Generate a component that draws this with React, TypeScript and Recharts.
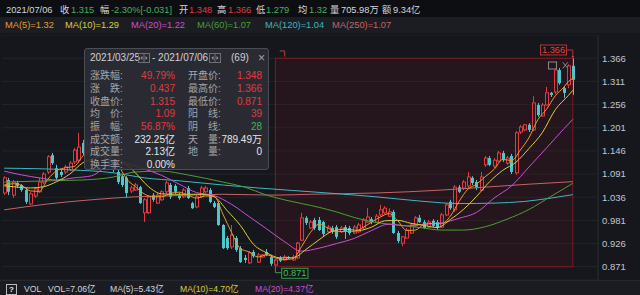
import React from 'react';
import { ComposedChart, Bar, Line, XAxis, YAxis, CartesianGrid, ReferenceArea } from 'recharts';

// ---- daily candles (131 trading days, last = 2021/07/06) ----
const opens = [
  1.046, 1.077, 1.041, 1.070, 1.065, 1.053, 1.020, 1.039, 1.049, 1.072,
  1.096, 1.136, 1.105, 1.096, 1.096, 1.101, 1.120, 1.124, 1.165, 1.143,
  1.158, 1.148, 1.136, 1.151, 1.129, 1.113, 1.096, 1.086, 1.082, 1.051,
  1.053, 1.060, 0.999, 0.999, 1.041, 1.022, 1.030, 1.049, 1.065, 1.063,
  1.041, 1.037, 1.058, 1.022, 1.013, 1.037, 1.049, 1.053, 1.022, 1.022,
  0.970, 0.939, 0.918, 0.939, 0.915, 0.892, 0.880, 0.906, 0.882, 0.894,
  0.906, 0.894, 0.875, 0.892, 0.887, 0.894, 0.887, 0.892, 0.934, 0.987,
  0.963, 0.982, 0.982, 0.977, 0.954, 0.963, 0.965, 0.954, 0.965, 0.963,
  0.951, 0.954, 0.963, 0.977, 0.984, 0.977, 0.994, 0.999, 0.991, 1.001,
  0.951, 0.927, 0.939, 0.951, 0.968, 0.987, 0.977, 0.965, 0.980, 0.977,
  0.965, 0.994, 1.025, 1.006, 1.060, 1.058, 1.063, 1.082, 1.072, 1.053,
  1.113, 1.129, 1.110, 1.122, 1.141, 1.117, 1.134, 1.094, 1.191, 1.196,
  1.208, 1.196, 1.255, 1.229, 1.255, 1.284, 1.286, 1.338, 1.295, 1.303,
  1.348,
];
const highs = [
  1.086, 1.082, 1.077, 1.075, 1.067, 1.058, 1.049, 1.060, 1.082, 1.096,
  1.136, 1.141, 1.113, 1.101, 1.113, 1.122, 1.153, 1.189, 1.172, 1.172,
  1.165, 1.153, 1.160, 1.155, 1.134, 1.117, 1.101, 1.091, 1.086, 1.063,
  1.070, 1.063, 1.034, 1.041, 1.046, 1.046, 1.053, 1.075, 1.070, 1.067,
  1.046, 1.058, 1.063, 1.025, 1.041, 1.063, 1.063, 1.058, 1.027, 1.027,
  0.972, 0.944, 0.970, 0.944, 0.920, 0.899, 0.908, 0.911, 0.904, 0.901,
  0.913, 0.899, 0.889, 0.896, 0.899, 0.896, 0.899, 0.930, 0.999, 0.991,
  0.982, 0.987, 0.989, 0.980, 0.970, 0.968, 0.970, 0.968, 0.970, 0.968,
  0.970, 0.975, 0.987, 1.010, 0.989, 0.996, 1.018, 1.015, 1.010, 1.006,
  0.956, 0.944, 0.963, 0.975, 0.991, 0.994, 0.982, 0.982, 0.984, 0.982,
  0.999, 1.022, 1.030, 1.065, 1.065, 1.077, 1.096, 1.086, 1.077, 1.096,
  1.134, 1.134, 1.129, 1.146, 1.146, 1.134, 1.139, 1.193, 1.208, 1.210,
  1.212, 1.276, 1.260, 1.260, 1.298, 1.286, 1.343, 1.343, 1.300, 1.352,
  1.366,
];
const lows = [
  1.041, 1.041, 1.034, 1.058, 1.049, 1.020, 1.018, 1.034, 1.046, 1.067,
  1.091, 1.113, 1.077, 1.084, 1.091, 1.098, 1.115, 1.120, 1.136, 1.136,
  1.141, 1.129, 1.132, 1.124, 1.105, 1.096, 1.067, 1.060, 1.034, 1.046,
  1.051, 1.020, 0.977, 0.996, 1.025, 1.020, 1.027, 1.044, 1.032, 1.044,
  1.030, 1.034, 1.032, 1.008, 1.010, 1.034, 1.046, 1.022, 1.010, 0.968,
  0.913, 0.911, 0.913, 0.906, 0.880, 0.880, 0.877, 0.892, 0.880, 0.892,
  0.896, 0.873, 0.871, 0.882, 0.885, 0.889, 0.885, 0.889, 0.932, 0.970,
  0.961, 0.958, 0.956, 0.944, 0.951, 0.949, 0.937, 0.951, 0.937, 0.946,
  0.949, 0.951, 0.961, 0.975, 0.972, 0.975, 0.991, 0.996, 0.989, 0.949,
  0.927, 0.920, 0.937, 0.949, 0.965, 0.975, 0.961, 0.963, 0.965, 0.958,
  0.963, 0.991, 1.006, 1.001, 1.046, 1.053, 1.058, 1.065, 1.053, 1.051,
  1.108, 1.110, 1.105, 1.120, 1.120, 1.113, 1.091, 1.089, 1.186, 1.193,
  1.191, 1.193, 1.227, 1.227, 1.253, 1.274, 1.281, 1.303, 1.272, 1.295,
  1.279,
];
const closes = [
  1.082, 1.049, 1.072, 1.063, 1.053, 1.025, 1.044, 1.056, 1.072, 1.091,
  1.132, 1.117, 1.082, 1.089, 1.108, 1.117, 1.148, 1.155, 1.141, 1.160,
  1.148, 1.136, 1.153, 1.129, 1.113, 1.101, 1.072, 1.065, 1.046, 1.058,
  1.065, 1.022, 1.030, 1.037, 1.030, 1.041, 1.049, 1.070, 1.037, 1.049,
  1.034, 1.053, 1.034, 1.010, 1.037, 1.058, 1.058, 1.025, 1.013, 0.970,
  0.915, 0.915, 0.946, 0.911, 0.882, 0.887, 0.904, 0.896, 0.899, 0.899,
  0.899, 0.878, 0.887, 0.885, 0.894, 0.892, 0.894, 0.927, 0.987, 0.975,
  0.977, 0.963, 0.958, 0.949, 0.965, 0.954, 0.942, 0.963, 0.954, 0.951,
  0.965, 0.970, 0.982, 0.989, 0.977, 0.991, 1.006, 1.010, 1.001, 0.951,
  0.932, 0.942, 0.958, 0.970, 0.987, 0.977, 0.963, 0.977, 0.968, 0.963,
  0.994, 1.018, 1.010, 1.060, 1.049, 1.072, 1.084, 1.070, 1.058, 1.084,
  1.129, 1.113, 1.124, 1.141, 1.124, 1.129, 1.096, 1.189, 1.203, 1.208,
  1.196, 1.260, 1.231, 1.255, 1.284, 1.279, 1.338, 1.307, 1.284, 1.348,
  1.315,
];

// ---- moving-average lines as [day index, value] ----
const ma5Points: Array<[number, number]> = [
  [0, 1.065], [2, 1.068], [4, 1.064], [6, 1.051], [8, 1.050], [10, 1.079], [12, 1.099], [14, 1.106],
  [16, 1.109], [18, 1.134], [20, 1.151], [22, 1.148], [24, 1.136], [26, 1.114], [28, 1.079], [30, 1.061],
  [32, 1.044], [34, 1.037], [36, 1.037], [38, 1.045], [40, 1.048], [42, 1.041], [44, 1.034], [46, 1.039],
  [48, 1.038], [50, 0.996], [52, 0.952], [54, 0.914], [56, 0.906], [58, 0.894], [60, 0.899], [62, 0.892],
  [64, 0.888], [66, 0.890], [68, 0.919], [70, 0.952], [72, 0.972], [74, 0.963], [76, 0.954], [78, 0.955],
  [80, 0.955], [82, 0.964], [84, 0.977], [86, 0.989], [88, 0.997], [90, 0.980], [92, 0.957], [94, 0.958],
  [96, 0.971], [98, 0.974], [100, 0.973], [102, 0.991], [104, 1.026], [106, 1.055], [108, 1.067], [110, 1.085],
  [112, 1.102], [114, 1.126], [116, 1.123], [118, 1.148], [120, 1.178], [122, 1.220], [124, 1.245], [126, 1.277],
  [128, 1.298], [129, 1.311], [130, 1.318],
];
const ma10Points: Array<[number, number]> = [
  [0, 1.063], [3, 1.060], [6, 1.058], [9, 1.061], [12, 1.073], [15, 1.091], [18, 1.118], [21, 1.129],
  [24, 1.140], [27, 1.122], [30, 1.094], [33, 1.061], [36, 1.044], [39, 1.043], [42, 1.043], [45, 1.043],
  [48, 1.037], [51, 1.004], [54, 0.969], [57, 0.924], [60, 0.904], [63, 0.892], [66, 0.892], [69, 0.912],
  [72, 0.935], [75, 0.955], [78, 0.960], [81, 0.957], [84, 0.965], [87, 0.980], [90, 0.981], [93, 0.974],
  [96, 0.969], [99, 0.964], [102, 0.983], [105, 1.007], [108, 1.038], [111, 1.073], [114, 1.100], [117, 1.119],
  [120, 1.152], [123, 1.189], [126, 1.244], [129, 1.278], [130, 1.290],
];
const ma20Points: Array<[number, number]> = [
  [0, 1.098], [4, 1.089], [8, 1.082], [12, 1.077], [16, 1.082], [20, 1.087], [24, 1.111], [28, 1.115],
  [32, 1.103], [36, 1.088], [40, 1.067], [44, 1.047], [48, 1.040], [52, 1.019], [56, 0.990], [60, 0.961],
  [64, 0.931], [68, 0.908], [72, 0.915], [76, 0.926], [80, 0.938], [84, 0.957], [88, 0.972], [92, 0.968],
  [96, 0.972], [100, 0.975], [104, 0.986], [108, 1.000], [112, 1.034], [116, 1.063], [120, 1.108], [124, 1.153],
  [128, 1.199], [130, 1.221],
];
const ma60Points: Array<[number, number]> = [
  [0, 1.072], [10, 1.075], [18, 1.077], [25, 1.084], [30, 1.096], [36, 1.098], [42, 1.089], [50, 1.072],
  [55, 1.060], [60, 1.041], [64, 1.030], [68, 1.021], [72, 1.012], [76, 1.001], [80, 0.988], [85, 0.976],
  [90, 0.970], [95, 0.964], [100, 0.958], [105, 0.958], [110, 0.966], [115, 0.984], [120, 1.007], [125, 1.038],
  [130, 1.069],
];
const ma120Points: Array<[number, number]> = [
  [0, 1.105], [15, 1.101], [25, 1.094], [32, 1.082], [40, 1.075], [50, 1.065], [58, 1.058], [66, 1.052],
  [74, 1.046], [85, 1.037], [96, 1.026], [104, 1.021], [112, 1.022], [119, 1.026], [125, 1.034], [130, 1.042],
];
const ma250Points: Array<[number, number]> = [
  [0, 1.006], [10, 1.020], [20, 1.030], [30, 1.037], [40, 1.040], [50, 1.043], [62, 1.041], [70, 1.043],
  [85, 1.046], [100, 1.053], [110, 1.060], [120, 1.067], [130, 1.073],
];

const priceTicks = [0.871, 0.926, 0.981, 1.036, 1.091, 1.146, 1.201, 1.256, 1.311, 1.366];
const rangeFrom = 62; // 2021/03/25
const rangeTo = 130; // 2021/07/06
const rangeHigh = 1.366;
const rangeLow = 0.871;
const rangeCount = rangeTo - rangeFrom + 1;

// ---- styling ----
const FONT = '"Liberation Sans", Arial, "Noto Sans CJK SC", sans-serif';
const BG = '#15171c';
const RED = '#e2393f';
const CYAN = '#4fc6c9';
const TXT = '#d4d6db';
const GRN = '#45b060';
const C5 = '#e89a30';
const C10 = '#d8cf3e';
const C20 = '#cc4fd4';
const C60 = '#4a9f35';
const C120 = '#3fb6c2';
const C250 = '#c46464';

const PLOT_LEFT = 2;
const PAD_RIGHT = 23;
const AXIS_W = 42;
const CHART_W = 640;
const CHART_H = 245;
const BAND = (CHART_W - AXIS_W - PLOT_LEFT - PAD_RIGHT) / closes.length;

const at = (pts: Array<[number, number]>, i: number) => {
  const f = pts.find((p) => p[0] === i);
  return f ? f[1] : null;
};

const data = closes.map((close, i) => ({
  i,
  open: opens[i],
  high: highs[i],
  low: lows[i],
  close,
  ma5: at(ma5Points, i),
  ma10: at(ma10Points, i),
  ma20: at(ma20Points, i),
  ma60: at(ma60Points, i),
  ma120: at(ma120Points, i),
  ma250: at(ma250Points, i),
}));

function Candle(props: any) {
  const { x, y, width, height, payload } = props;
  if (!payload || x == null || y == null) return null;
  const { open, close, high, low } = payload;
  const cx = Math.round(x + width / 2) + 0.5;
  const k = high > low ? height / (high - low) : 0;
  const py = (p: number) => y + (high - p) * k;
  const up = close >= open;
  const bt = py(Math.max(open, close));
  const bb = py(Math.min(open, close));
  const bh = Math.max(1, bb - bt);
  if (up) {
    return (
      <g>
        <line x1={cx} x2={cx} y1={y} y2={bt} stroke={RED} strokeWidth={1} />
        <line x1={cx} x2={cx} y1={bt + bh} y2={y + height} stroke={RED} strokeWidth={1} />
        <rect x={cx - 1} y={bt} width={3} height={bh} fill="none" stroke={RED} strokeWidth={1} />
      </g>
    );
  }
  return (
    <g>
      <line x1={cx} x2={cx} y1={y} y2={y + height} stroke={CYAN} strokeWidth={1} />
      <rect x={cx - 1.5} y={bt} width={3} height={bh} fill={CYAN} />
    </g>
  );
}

function Selection(props: any) {
  const { x, y, width, height } = props;
  if (x == null) return null;
  const inset =
    Math.abs(width - rangeCount * BAND) < Math.abs(width - (rangeCount - 1) * BAND) ? BAND / 2 : 0;
  const x0 = x + inset;
  const x1 = x + width - inset;
  const y0 = y;
  const y1 = y + height;
  return (
    <g>
      <rect x={x0} y={y0} width={x1 - x0} height={y1 - y0} fill="rgba(120,20,28,0.16)" stroke="#7a1d22" strokeWidth={1} />
      <path d={`M${x0 + 4.3} ${y0 - 7.3} H${x0 + 9.3} V${y0 - 1.6}`} fill="none" stroke="#c0393b" strokeWidth={1} />
      {/* high marker */}
      <rect x={x1 - 32.3} y={y0 - 13.3} width={26} height={10} fill="#1d1114" stroke="#b3353a" strokeWidth={1} />
      <text x={x1 - 19.3} y={y0 - 8.3} fill="#e0474a" fontSize={9.3} fontFamily={FONT} textAnchor="middle" dominantBaseline="central">
        {rangeHigh.toFixed(3)}
      </text>
      <path d={`M${x1 - 6.3} ${y0 - 8.3} H${x1} V${y0 - 1.5}`} fill="none" stroke="#b3353a" strokeWidth={1} />
      <circle cx={x1} cy={y0 - 1.5} r={1} fill="#e0474a" />
      {/* tool icons */}
      <rect x={x1 - 24.3} y={y0 + 3.7} width={8} height={7} fill="none" stroke="#8a8c92" strokeWidth={1} />
      <path d={`M${x1 - 10} ${y0 + 4} L${x1 - 5} ${y0 + 10} M${x1 - 5} ${y0 + 4} L${x1 - 10} ${y0 + 10}`} stroke="#8a8c92" strokeWidth={1} />
      {/* low marker */}
      <path d={`M${x0} ${y1} V${y1 + 6} H${x0 + 6.3}`} fill="none" stroke="#3a9a50" strokeWidth={1} />
      <rect x={x0 + 6.3} y={y1 + 1.6} width={26.3} height={10} fill="#0f1a13" stroke="#3a9a50" strokeWidth={1} />
      <text x={x0 + 19.5} y={y1 + 6.6} fill="#4cb860" fontSize={9.3} fontFamily={FONT} textAnchor="middle" dominantBaseline="central">
        {rangeLow.toFixed(3)}
      </text>
    </g>
  );
}

function T(props: { x: number; y: number; c?: string; s?: number; right?: boolean; children: React.ReactNode }) {
  const { x, y, c = TXT, s = 9.3, right, children } = props;
  const style: React.CSSProperties = {
    position: 'absolute',
    top: y - 6,
    height: 12,
    lineHeight: '12px',
    fontSize: s,
    color: c,
    whiteSpace: 'nowrap',
  };
  if (right) {
    style.left = x - 120;
    style.width = 120;
    style.textAlign = 'right';
  } else {
    style.left = x;
  }
  return <div style={style}>{children}</div>;
}

function StepBtn({ x, y }: { x: number; y: number }) {
  return (
    <svg style={{ position: 'absolute', left: x, top: y }} width={12} height={10}>
      <rect x={0.5} y={0.5} width={11} height={9} fill="none" stroke="#6d7076" />
      <line x1={6} x2={6} y1={1} y2={9} stroke="#6d7076" />
      <path d="M4.5 3 L2.5 5 L4.5 7 Z" fill="#9a9ca2" />
      <path d="M7.5 3 L9.5 5 L7.5 7 Z" fill="#9a9ca2" />
    </svg>
  );
}

const LBL = '#a3a5ab';
const VAL_W = '#e4e5e8';

export default function App() {
  const rowsY = [75.5, 88.5, 101.5, 114.2, 126.8, 139.5, 152.3, 165];
  const left: Array<[string, string, string]> = [
    ['涨跌幅:', '49.79%', RED],
    ['涨　跌:', '0.437', RED],
    ['收盘价:', '1.315', RED],
    ['均　价:', '1.09', RED],
    ['振　幅:', '56.87%', RED],
    ['成交额:', '232.25亿', VAL_W],
    ['成交量:', '2.13亿', VAL_W],
    ['换手率:', '0.00%', VAL_W],
  ];
  const right: Array<[string, string, string]> = [
    ['开盘价:', '1.348', RED],
    ['最高价:', '1.366', RED],
    ['最低价:', '0.871', RED],
    ['阳　线:', '39', RED],
    ['阴　线:', '28', GRN],
    ['天　量:', '789.49万', VAL_W],
    ['地　量:', '0', VAL_W],
  ];
  return (
    <div style={{ position: 'fixed', left: 0, top: 0, width: 640, height: 295, background: BG, overflow: 'hidden', fontFamily: FONT }}>
      <div style={{ position: 'absolute', left: 0, top: 0, width: 640, height: 17, background: '#0d0e11' }} />
      <div style={{ position: 'absolute', left: 0, top: 17, width: 640, height: 16, background: '#1b1d22' }} />

      <div style={{ position: 'absolute', left: 0, top: 35 }}>
        <ComposedChart width={CHART_W} height={CHART_H} data={data} margin={{ top: 0, right: 0, bottom: 0, left: PLOT_LEFT }}>
          <CartesianGrid horizontal vertical={false} stroke="#22252b" />
          <XAxis dataKey="i" hide padding={{ left: 0, right: PAD_RIGHT }} />
          <YAxis
            orientation="right"
            width={AXIS_W}
            domain={[0.8394, 1.4213]}
            allowDataOverflow
            ticks={priceTicks}
            interval={0}
            tickSize={0}
            tickMargin={4}
            tickLine={false}
            axisLine={{ stroke: '#2c2f36' }}
            tick={{ fill: '#c3c6cc', fontSize: 9.5, fontFamily: FONT }}
            tickFormatter={(v: number) => v.toFixed(3)}
          />
          <ReferenceArea x1={rangeFrom} x2={rangeTo} y1={rangeLow} y2={rangeHigh} shape={Selection} ifOverflow="visible" />
          <Bar dataKey={(d: any) => [d.low, d.high]} shape={Candle} isAnimationActive={false} />
          <Line dataKey="ma250" stroke={C250} strokeWidth={1} dot={false} type="monotone" connectNulls isAnimationActive={false} />
          <Line dataKey="ma120" stroke={C120} strokeWidth={1} dot={false} type="monotone" connectNulls isAnimationActive={false} />
          <Line dataKey="ma60" stroke={C60} strokeWidth={1} dot={false} type="monotone" connectNulls isAnimationActive={false} />
          <Line dataKey="ma20" stroke={C20} strokeWidth={1} dot={false} type="monotone" connectNulls isAnimationActive={false} />
          <Line dataKey="ma10" stroke={C10} strokeWidth={1} dot={false} type="monotone" connectNulls isAnimationActive={false} />
          <Line dataKey="ma5" stroke={C5} strokeWidth={1} dot={false} type="monotone" connectNulls isAnimationActive={false} />
        </ComposedChart>
      </div>

      {/* header row 1 */}
      <T x={6} y={10}>2021/07/06</T>
      <T x={60} y={10}>收</T>
      <T x={71} y={10} c={GRN}>1.315</T>
      <T x={100} y={10}>幅</T>
      <T x={111} y={10} c={GRN}>-2.30%[-0.031]</T>
      <T x={179} y={10}>开</T>
      <T x={189} y={10} c={RED}>1.348</T>
      <T x={217} y={10}>高</T>
      <T x={228} y={10} c={RED}>1.366</T>
      <T x={256} y={10}>低</T>
      <T x={266} y={10} c={GRN}>1.279</T>
      <T x={298} y={10}>均</T>
      <T x={309} y={10} c={GRN}>1.32</T>
      <T x={330} y={10}>量</T>
      <T x={341} y={10}>705.98万</T>
      <T x={382} y={10}>额</T>
      <T x={393} y={10}>9.34亿</T>

      {/* header row 2 */}
      <T x={5} y={25} c={C5}>MA(5)=1.32</T>
      <T x={65} y={25} c={C10}>MA(10)=1.29</T>
      <T x={131} y={25} c={C20}>MA(20)=1.22</T>
      <T x={197} y={25} c={C60}>MA(60)=1.07</T>
      <T x={265} y={25} c={C120}>MA(120)=1.04</T>
      <T x={332} y={25} c={C250}>MA(250)=1.07</T>

      {/* range statistics box */}
      <div
        style={{
          position: 'absolute',
          left: 84,
          top: 48,
          width: 185,
          height: 122,
          background: 'rgba(44,46,52,0.92)',
          border: '1px solid #4a4d54',
          borderRadius: 3,
          boxSizing: 'border-box',
        }}
      />
      <T x={90} y={58} c="#cfd1d6" s={10}>2021/03/25</T>
      <StepBtn x={138} y={53} />
      <T x={152} y={58} c="#cfd1d6" s={10}>- 2021/07/06</T>
      <StepBtn x={209} y={53} />
      <T x={231} y={58} c="#cfd1d6" s={10}>(69)</T>
      <T x={258} y={58} c="#a0a2a8" s={12}>×</T>
      {left.map(([l, v, c], k) => (
        <React.Fragment key={'l' + k}>
          <T x={90} y={rowsY[k]} c={LBL} s={10}>{l}</T>
          <T x={175} y={rowsY[k]} c={c} s={10} right>{v}</T>
        </React.Fragment>
      ))}
      {right.map(([l, v, c], k) => (
        <React.Fragment key={'r' + k}>
          <T x={188} y={rowsY[k]} c={LBL} s={10}>{l}</T>
          <T x={262} y={rowsY[k]} c={c} s={10} right>{v}</T>
        </React.Fragment>
      ))}

      {/* volume header */}
      <div style={{ position: 'absolute', left: 0, top: 280, width: 640, height: 15, background: '#1a1c21', borderTop: '1px solid #26282e' }} />
      <div
        style={{
          position: 'absolute',
          left: 6,
          top: 284,
          width: 9,
          height: 9,
          border: '1px solid #b9bbc0',
          color: '#e8e8e8',
          fontSize: 8,
          lineHeight: '9px',
          textAlign: 'center',
          fontWeight: 'bold',
        }}
      >
        ?
      </div>
      <T x={24} y={289} s={8.6}>VOL</T>
      <T x={48} y={289} s={8.6}>VOL=7.06亿</T>
      <T x={110} y={289} s={8.6}>MA(5)=5.43亿</T>
      <T x={180} y={289} s={8.6} c={C10}>MA(10)=4.70亿</T>
      <T x={255} y={289} s={8.6} c={C20}>MA(20)=4.37亿</T>
    </div>
  );
}
